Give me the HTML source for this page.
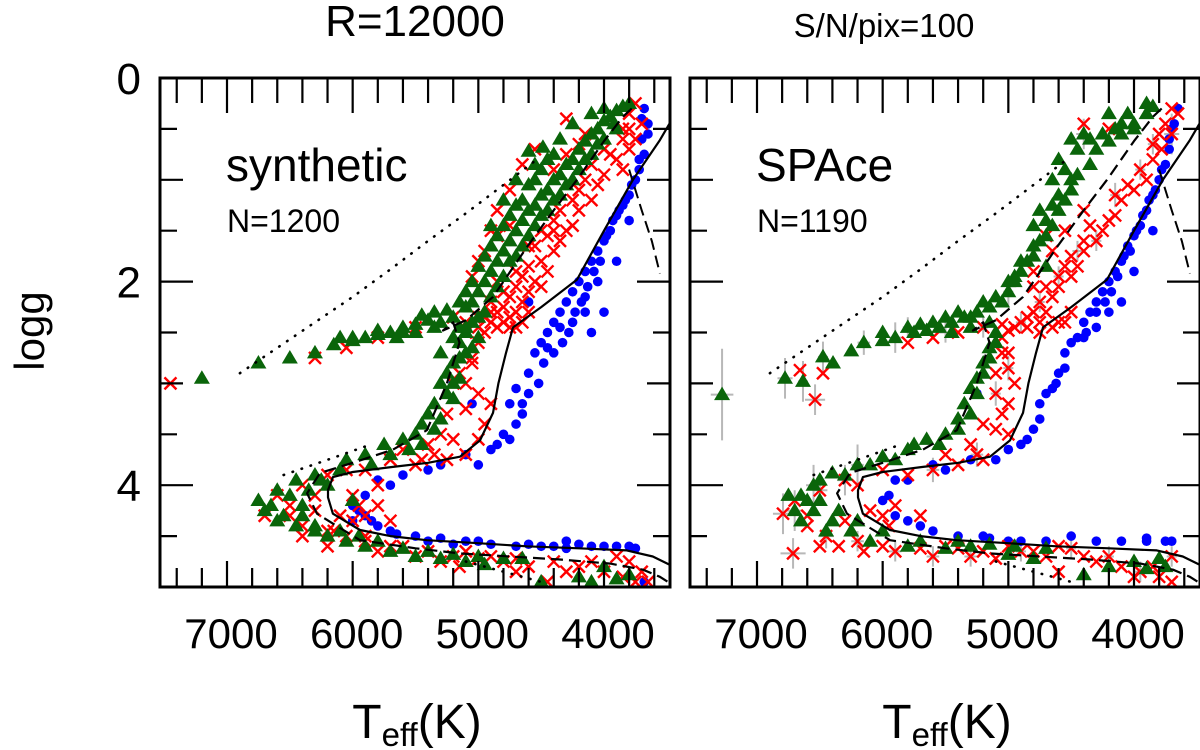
<!DOCTYPE html>
<html><head><meta charset="utf-8">
<style>
html,body{margin:0;padding:0;background:#fff;}
svg{display:block;font-family:"Liberation Sans",Arial,sans-serif;}
</style></head>
<body>
<svg id="chart" width="1200" height="750" viewBox="0 0 1200 750" xmlns="http://www.w3.org/2000/svg">
<text x="415" y="36" font-size="44" text-anchor="middle">R=12000</text>
<text x="884" y="37" font-size="33" text-anchor="middle">S/N/pix=100</text>
<text transform="translate(44,331) rotate(-90)" font-size="42" text-anchor="middle">logg</text>
<text x="417" y="738" font-size="48" text-anchor="middle">T<tspan font-size="33" dy="8">eff</tspan><tspan dy="-8">(K)</tspan></text>
<text x="947" y="738" font-size="48" text-anchor="middle">T<tspan font-size="33" dy="8">eff</tspan><tspan dy="-8">(K)</tspan></text>
<g id="panels"></g>
</svg>
<script>
const tempTicks = [7000, 6000, 5000, 4000];
const loggTicks = [0, 2, 4];
const solidLine = [[3480,0.45],[3555,0.61],[3770,1.0],[4000,1.5],[4215,1.98],[4500,2.25],[4724,2.45],[4780,2.7],[4840,3.0],[4883,3.29],[4987,3.56],[5146,3.72],[5400,3.78],[5679,3.82],[6000,3.87],[6157,3.92],[6196,4.05],[6196,4.12],[6157,4.28],[5942,4.44],[5700,4.5],[5410,4.54],[5000,4.57],[4615,4.6],[4200,4.62],[3819,4.64],[3612,4.7],[3480,4.78]];
const dashLine = [[3780,0.3],[3849,0.38],[4000,0.62],[4215,1.0],[4400,1.3],[4613,1.66],[4883,2.15],[5100,2.38],[5281,2.48],[5200,2.4],[5150,2.6],[5250,3.0],[5409,3.46],[5679,3.65],[6000,3.78],[6260,3.88],[6363,4.08],[6284,4.28],[6100,4.42],[5942,4.54],[5500,4.62],[5146,4.67],[4750,4.7],[4350,4.73],[3950,4.77],[3690,4.83],[3555,4.9],[3480,4.96]];
const dashLine2 = [[3800,0.9],[3700,1.3],[3620,1.6],[3555,1.92]];
const dotLine = [[6897,2.9],[6600,2.65],[6300,2.4],[6000,2.15],[5700,1.88],[5400,1.6],[5100,1.33],[4800,1.05],[4533,0.8]];
const dotLine2 = [[6550,3.9],[6200,3.75],[5900,3.62]];
const dotLine3 = [[5100,4.75],[4800,4.85],[4500,4.95]];

const greenL = [[3850,0.28],[3900,0.32],[3950,0.38],[4000,0.42],[3920,0.45],[4050,0.5],[4100,0.55],[4000,0.6],[4150,0.62],[4200,0.7],[4100,0.75],[4250,0.8],[4300,0.85],[4200,0.9],[4350,0.95],[4400,1.0],[4300,1.05],[4450,1.1],[4500,1.15],[4400,1.2],[4550,1.25],[4600,1.3],[4500,1.35],[4650,1.4],[4700,1.5],[4600,1.55],[4750,1.6],[4800,1.7],[4700,1.75],[4850,1.8],[4900,1.9],[4800,1.95],[4950,2.0],[5000,2.1],[4900,2.15],[5050,2.2],[5100,2.25],[4550,0.85],[4600,0.72],[4700,1.0],[4486,0.68],[4350,0.6],
[5200,2.35],[5300,2.4],[5400,2.38],[5500,2.42],[5600,2.45],[5700,2.5],[5800,2.52],[5900,2.55],[6000,2.58],[6150,2.62],[6300,2.7],[6500,2.75],[6750,2.8],[7200,2.95],[5350,2.3],[5450,2.33],[5150,2.2],[5250,2.28],[5500,2.5],[5650,2.55],
[5100,2.5],[5150,2.6],[5100,2.7],[5200,2.8],[5250,2.9],[5300,3.0],[5250,3.1],[5350,3.2],[5400,3.3],[5450,3.4],[5500,3.5],[5600,3.55],[5750,3.6],[5900,3.7],[6050,3.75],[6300,3.9],[6450,3.95],[6600,4.05],[6750,4.15],[6700,4.25],[6550,4.3],[6450,4.4],[6300,4.45],[6200,4.5],[6050,4.55],[5900,4.6],[5700,4.65],[5500,4.7],[5300,4.72],[5100,4.75],[4950,4.78],[4500,4.95],[4200,4.9],[4100,4.95],[3900,4.92],[6000,4.15],[6200,4.0],[6400,4.2],[5200,2.55],[5300,2.7],
[4100,0.35],[4250,0.45],[4400,0.75],[4500,0.9],[4600,1.05],[4650,1.2],[4750,1.35],[4800,1.45],[4850,1.55],[4900,1.65],[4950,1.75],[5000,1.85],[5050,2.0],[5100,2.1],[4900,1.45],[4800,1.2],[4700,1.25],[4550,1.0],[4450,0.8],[4000,0.3],[3800,0.25],[3900,0.5],[4050,0.65],[4150,0.8],[4250,1.0],[4350,1.15],[4450,1.3],[4550,1.45],[4650,1.65],[4750,1.8],[4850,2.05],[4950,2.3],[5000,2.35],[5050,2.4],[5150,2.45],[5150,2.95],[5200,3.15],[5300,3.35],[5350,3.45],[5450,3.6],[5550,3.65],[5700,3.7],[5850,3.8],[6100,3.85],[6250,3.95],[6350,4.05],[6500,4.1],[6650,4.2],[6600,4.35],[6400,4.3],[6300,4.4],[6100,4.45],[5950,4.5],[5800,4.55],[5600,4.62],[5400,4.65],[5200,4.68],[5000,4.7],[4800,4.72],[4650,4.72],[4000,4.8],[3800,4.88],[5100,2.45],[5000,2.55],[5050,2.65],[5150,2.75],[5200,3.0],[5600,2.5],[5800,2.48],[6000,2.55],[6100,2.55],[5350,2.45]];
const redL = [[3750,0.25],[3800,0.35],[3700,0.45],[3850,0.5],[3750,0.6],[3800,0.7],[3900,0.8],[3850,0.9],[4000,0.95],[4050,1.05],[4100,1.2],[4200,1.3],[4250,1.45],[4300,1.5],[4350,1.6],[4400,1.7],[4500,1.8],[4450,1.9],[4550,2.0],[4600,2.1],[4650,2.2],[4700,2.3],[4750,2.35],[4800,2.4],[4600,2.3],[4500,2.05],[4700,2.45],[4400,1.4],[4150,0.55],[4300,0.4],[4550,0.7],[4650,0.85],[4750,1.1],[4850,1.3],[4900,1.5],[4950,1.7],[5000,1.8],[5050,1.95],[4850,2.0],[4900,2.4],[5000,2.45],[5100,2.4],[4850,1.55],[4750,1.45],
[7450,3.0],[6300,2.75],[6050,2.65],[5800,2.55],[5500,2.45],[5200,2.35],
[5000,2.6],[5050,2.8],[5100,3.0],[5000,3.1],[4900,3.2],[4950,3.4],[5000,3.55],[5200,3.0],[5250,3.3],[5300,3.5],[5400,3.6],[5600,3.65],[5100,3.7],[5250,3.75],[5500,3.8],[5900,3.85],[6200,3.9],[6400,4.0],[6600,4.1],[6700,4.3],[6500,4.2],[6300,4.25],[6100,4.3],[6000,4.35],[5900,4.5],[5800,4.2],[6150,4.45],[6400,4.5],[6200,4.6],[5800,4.65],[5600,4.6],[5400,4.65],[5200,4.7],[5000,4.72],[4800,4.75],[4600,4.8],[4400,4.75],[4200,4.8],[4000,4.85],[3850,4.9],[3700,4.85],[3650,4.95],[4450,4.95],[3900,4.7],[4700,4.72],[5150,4.8],
[3800,0.5],[3850,0.6],[3950,0.75],[4000,0.7],[4100,0.85],[4150,1.0],[4200,1.1],[4250,1.2],[4350,1.3],[4400,1.5],[4450,1.55],[4550,1.65],[4600,1.85],[4650,1.95],[4700,2.05],[4750,2.15],[4800,2.25],[4850,2.3],[4950,2.35],[4900,2.2],[4800,2.1],[4700,1.9],[4600,1.65],[4500,1.5],[4400,0.9],[4300,0.75],[4200,0.65],[4900,2.3],[5000,2.35],[4850,2.45],[4950,2.5],[5100,2.5],[4750,2.45],[4650,2.4],[5050,2.75],[5150,2.9],[5100,3.25],[5200,3.55],[5350,3.7],[5450,3.75],[5700,3.75],[6050,3.85],[6300,4.1],[6500,4.3],[6400,4.4],[6200,4.45],[6050,4.5],[5900,4.55],[5700,4.6],[5500,4.7],[5300,4.75],[5100,4.65],[4900,4.7],[4700,4.85],[4300,4.85],[4100,4.75],[3800,4.75],[3750,4.95],[6000,4.1],[5900,4.3],[5700,4.35],[5950,4.2],[5800,4.0]];
const blueL = [[3680,0.3],[3650,0.45],[3700,0.6],[3680,0.75],[3720,0.9],[3750,1.0],[3800,1.15],[3850,1.25],[3900,1.35],[3950,1.5],[4000,1.6],[4050,1.7],[4100,1.8],[4150,1.9],[4200,2.0],[4250,2.1],[4300,2.2],[4350,2.3],[4400,2.4],[4450,2.5],[4500,2.6],[4550,2.7],[4600,2.9],[4700,3.05],[4750,3.2],[4650,3.3],[4800,3.5],[4850,3.6],[4900,3.65],[5100,3.7],[5300,3.8],[5600,3.9],[5800,3.95],[5900,4.1],[6000,4.2],[5900,4.3],[5800,4.4],[5700,4.45],[5500,4.5],[5300,4.52],[5100,4.55],[4900,4.58],[4700,4.6],[4500,4.6],[4300,4.62],[4100,4.6],[3900,4.6],[3750,4.62],[3680,4.95],[4000,2.3],[4100,2.5],[5200,3.0],[5050,3.2],[4250,2.4],[3900,1.8],[3800,1.4],[4600,2.2],[6000,4.35],[5000,4.55],[4300,4.55],[4150,2.15],[4050,2.0],
[3700,0.4],[3650,0.55],[3720,0.8],[3780,1.05],[3830,1.2],[3880,1.3],[3930,1.4],[3980,1.55],[4030,1.8],[4080,1.9],[4130,2.05],[4180,2.2],[4230,2.3],[4280,2.5],[4330,2.6],[4400,2.7],[4480,2.8],[4520,3.0],[4600,3.1],[4650,3.2],[4700,3.4],[4750,3.55],[5000,3.8],[5400,3.85],[5700,4.0],[5950,4.25],[5850,4.35],[5650,4.48],[5400,4.55],[5200,4.58],[4600,4.58],[4400,4.6],[4200,4.58],[4000,4.6],[3800,4.6],[4350,2.45],[4150,2.3],[4450,2.65]];

const greenR = [[3850,0.28],[3900,0.35],[4000,0.45],[4100,0.55],[4200,0.62],[4300,0.7],[4400,0.55],[4500,0.6],[4350,0.85],[4450,0.95],[4500,1.1],[4550,1.2],[4600,1.3],[4650,1.45],[4700,1.55],[4800,1.65],[4850,1.8],[4900,1.9],[4950,2.0],[5000,2.1],[5050,2.2],[4750,1.3],[4650,1.0],[4600,0.8],[4200,0.35],[4100,0.45],[4000,0.5],[4700,1.85],
[5150,2.25],[5250,2.3],[5350,2.35],[5450,2.4],[5550,2.45],[5650,2.48],[5750,2.5],[5900,2.55],[6000,2.58],[6150,2.6],[6250,2.68],[6395,2.8],[6475,2.74],[6777,2.95],[6634,2.98],[7278,3.11],[5300,2.45],[5450,2.5],
[5100,2.5],[5150,2.65],[5200,2.8],[5250,2.95],[5300,3.05],[5350,3.2],[5400,3.35],[5500,3.5],[5650,3.55],[5800,3.65],[6000,3.72],[6200,3.8],[6400,3.88],[6550,4.0],[6650,4.1],[6750,4.1],[6700,4.25],[6550,4.25],[6400,4.35],[6250,4.45],[6100,4.55],[5800,4.6],[5500,4.62],[5300,4.6],[5000,4.68],[4800,4.72],[4400,4.88],[4000,4.75],[3900,4.82],[3750,4.8],[6450,4.45],
[3900,0.25],[4050,0.35],[4150,0.5],[4250,0.55],[4350,0.6],[4450,0.7],[4550,0.9],[4500,1.0],[4600,1.15],[4700,1.4],[4750,1.6],[4800,1.75],[4900,1.8],[4950,1.95],[5000,2.0],[5100,2.15],[5200,2.2],[4800,1.45],[4650,1.25],[5300,2.35],[5400,2.3],[5500,2.35],[5600,2.4],[5700,2.42],[5800,2.45],[6000,2.5],[5150,2.4],[5100,2.6],[5150,2.75],[5200,2.9],[5250,3.1],[5300,3.3],[5400,3.45],[5550,3.6],[5750,3.6],[5900,3.75],[6100,3.8],[6300,3.9],[6500,3.95],[6600,4.15],[6500,4.15],[6350,4.25],[6200,4.35],[6000,4.45],[5700,4.55],[5400,4.55],[5150,4.58],[4950,4.6],[4700,4.62],[4200,4.8],[3800,4.72],[6650,4.35]];
const redR = [[3650,0.35],[3750,0.45],[3700,0.55],[3780,0.7],[3850,0.8],[3900,1.0],[4000,1.1],[4100,1.2],[4150,1.35],[4250,1.5],[4300,1.6],[4400,1.7],[4450,1.85],[4500,1.95],[4600,2.05],[4650,2.15],[4700,2.3],[4750,2.4],[4850,2.45],[4950,2.45],[5050,2.42],[4500,2.3],[4550,1.5],[4400,1.3],[4700,1.55],[4800,1.9],[4200,0.5],[4400,0.45],[4600,2.4],
[6658,2.87],[6475,2.9],[6538,3.16],[5800,2.6],[5600,2.55],[5400,2.5],[5200,2.45],
[5050,2.7],[5000,2.85],[4950,3.0],[5100,3.1],[5050,3.3],[5000,3.5],[5200,3.4],[5300,3.6],[5500,3.7],[5200,3.75],[5600,3.85],[6000,3.85],[6300,3.95],[6500,4.05],[6700,4.15],[6793,4.28],[6713,4.67],[6600,4.4],[6450,4.5],[6300,4.35],[6100,4.25],[5950,4.4],[6200,4.55],[6000,4.6],[5700,4.62],[5500,4.6],[5300,4.7],[5100,4.72],[4900,4.65],[4700,4.7],[4500,4.62],[4300,4.75],[4100,4.8],[3950,4.85],[3800,4.9],[3700,4.7],[4600,4.85],[5200,4.65],
[3700,0.3],[3800,0.55],[3850,0.65],[3950,0.9],[4050,1.05],[4150,1.15],[4200,1.4],[4350,1.45],[4400,1.6],[4500,1.75],[4550,1.85],[4600,1.95],[4700,2.05],[4750,2.2],[4800,2.3],[4850,2.35],[4900,2.4],[5000,2.48],[4650,2.45],[4750,2.5],[4550,2.4],[4800,2.05],[4650,1.7],[5050,2.55],[5000,2.7],[5100,2.9],[5000,3.2],[5100,3.45],[5250,3.7],[5400,3.8],[5800,3.9],[6200,4.0],[6600,4.3],[6500,4.6],[6350,4.6],[6150,4.65],[5900,4.65],[5600,4.7],[5400,4.62],[5000,4.6],[4800,4.65],[4400,4.7],[4200,4.7],[4000,4.9],[3850,4.8],[3700,4.95],[4600,4.6],[5900,4.2],[5700,4.3],[6000,4.3]];
const blueR = [[3650,0.3],[3700,0.5],[3720,0.7],[3750,0.85],[3800,1.0],[3850,1.15],[3900,1.3],[3950,1.45],[4000,1.55],[4050,1.65],[4100,1.8],[4150,1.9],[4200,2.0],[4250,2.1],[4300,2.2],[4350,2.3],[4400,2.4],[4450,2.55],[4550,2.7],[4600,2.9],[4650,3.05],[4750,3.2],[4800,3.45],[4900,3.6],[5000,3.65],[5300,3.75],[5600,3.8],[5900,3.95],[6000,4.15],[5800,4.35],[5600,4.45],[5400,4.5],[5150,4.52],[4900,4.55],[4500,4.5],[4300,4.55],[4100,4.55],[3900,4.55],[3750,4.55],[4200,2.3],[4400,2.55],[5250,3.1],[4000,1.9],[3850,1.5],
[3680,0.45],[3720,0.6],[3780,0.9],[3830,1.1],[3880,1.2],[3930,1.35],[3980,1.5],[4030,1.7],[4080,1.75],[4130,1.95],[4180,2.1],[4230,2.2],[4300,2.3],[4380,2.5],[4500,2.6],[4550,2.85],[4620,3.0],[4700,3.1],[4750,3.35],[4850,3.55],[5100,3.75],[5500,3.85],[5800,3.95],[5950,4.1],[5900,4.3],[5700,4.4],[5200,4.5],[5000,4.55],[4700,4.55],[3900,4.52],[3700,4.55],[4300,2.45],[4100,2.2]];
const errR = [[7278,3.11,90,0.45],[6777,2.95,60,0.2],[6634,2.98,40,0.2],[6538,3.16,80,0.15],[6475,2.74,40,0.15],[6793,4.28,80,0.2],[6713,4.67,100,0.15],[6550,4.0,60,0.2],[5900,2.55,50,0.15],[5000,2.1,40,0.15],[4400,0.55,60,0.15],[3700,0.55,60,0.2],[6200,3.8,50,0.2],[6700,4.25,60,0.2],
[6150,2.6,50,0.12],[5800,2.45,40,0.1],[5500,2.5,50,0.1],[5200,2.45,40,0.1],[4900,2.4,40,0.1],[4750,2.2,40,0.1],[4600,1.95,40,0.1],[4450,1.7,40,0.1],[4300,1.6,40,0.1],[4150,1.15,40,0.12],[3950,0.9,40,0.1],[3850,0.65,40,0.1],[5250,3.7,50,0.12],[5600,3.85,50,0.12],[6300,3.95,60,0.15],[6500,4.05,60,0.15],[6450,4.5,60,0.12],[6200,4.55,50,0.1],[5900,4.65,50,0.1],[5600,4.7,50,0.1],[5300,4.7,50,0.1],[4900,4.65,40,0.1],[4500,4.62,40,0.1],[4200,4.7,40,0.1],[3950,4.85,40,0.1],[3700,4.7,40,0.1],[5100,3.1,40,0.12],[5000,2.85,40,0.12]];

const NS = 'http://www.w3.org/2000/svg';
const panelsG = document.getElementById('panels');
const TOP = 78, BOT = 587;
function yPix(g){ return TOP + g * (BOT - TOP) / 5; }
function mk(tag, attrs, parent){ const e = document.createElementNS(NS, tag); for (const k in attrs) e.setAttribute(k, attrs[k]); parent.appendChild(e); return e; }

function drawPanel(x0, name, label, nlabel, green, red, blue, errs, showY){
  const x1 = x0 + 510;
  function xPix(t){ return x0 + 67 + (7000 - t) * 0.12567; }
  const g = mk('g', {}, panelsG);
  
  
  const cid = 'clip-' + name;
  const cp = mk('clipPath', {id: cid}, g);
  mk('rect', {x: x0, y: TOP, width: 510, height: BOT - TOP}, cp);
  const plot = mk('g', {'clip-path': 'url(#' + cid + ')'}, g);
  for (const e of errs){
    const eb = mk('path', {d: 'M' + xPix(e[0] - e[2]) + ' ' + yPix(e[1]) + 'H' + xPix(e[0] + e[2]) + 'M' + xPix(e[0]) + ' ' + yPix(e[1] - e[3]) + 'V' + yPix(e[1] + e[3]), stroke: '#b8b8b8', 'stroke-width': 2, fill: 'none'}, plot);
    
    
  }
  for (const p of blue){
    const c = mk('circle', {cx: xPix(p[0]), cy: yPix(p[1]), r: 4.8, fill: '#0000ff'}, plot);
    
    
  }
  for (const p of red){
    const x = xPix(p[0]), y = yPix(p[1]), s = 6;
    const m = mk('path', {d: 'M' + (x - s) + ' ' + (y - s) + 'L' + (x + s) + ' ' + (y + s) + 'M' + (x - s) + ' ' + (y + s) + 'L' + (x + s) + ' ' + (y - s), stroke: '#ff0000', 'stroke-width': 2.4, fill: 'none'}, plot);
    
    
  }
  for (const p of green){
    const x = xPix(p[0]), y = yPix(p[1]);
    const t = mk('path', {d: 'M' + x + ' ' + (y - 8) + 'L' + (x + 8) + ' ' + (y + 5.5) + 'L' + (x - 8) + ' ' + (y + 5.5) + 'Z', fill: '#0a650a'}, plot);
    
    
  }
  function line(arr, dash, w, lname, cap){
    const d = arr.map((p, i) => (i ? 'L' : 'M') + xPix(p[0]).toFixed(1) + ' ' + yPix(p[1]).toFixed(1)).join('');
    const l = mk('path', {d: d, stroke: '#000', 'stroke-width': w, fill: 'none', 'stroke-dasharray': dash, 'stroke-linecap': cap || 'butt', 'stroke-linejoin': 'round'}, plot);
    
    
  }
  line(solidLine, 'none', 2.2, 'isochrone-solid');
  line(dashLine, '12,6', 2.2, 'isochrone-dashed');
  line(dashLine2, '12,6', 2, 'isochrone-dashed-branch');
  line(dotLine, '0.5,9', 2.6, 'isochrone-dotted', 'round');
  line(dotLine2, '0.5,9', 2.6, 'isochrone-dotted-lower', 'round');
  line(dotLine3, '0.5,9', 2.6, 'isochrone-dotted-bottom', 'round');
  const fr = mk('rect', {x: x0, y: TOP, width: 510, height: BOT - TOP, fill: 'none', stroke: '#000', 'stroke-width': 3}, g);
  
  
  let td = '';
  for (let t = 7400; t >= 3600; t -= 200){
    const x = xPix(t);
    const major = (t % 1000 === 0);
    const len = major ? 26 : 19;
    td += 'M' + x + ' ' + TOP + 'v' + (major ? 35 : 25);
    td += 'M' + x + ' ' + BOT + 'v-' + len;
  }
  for (let v = 0.5; v < 5; v += 0.5){
    const y = yPix(v);
    const len = (v % 2 === 0) ? 33 : (v % 1 === 0 ? 23 : 17);
    td += 'M' + x0 + ' ' + y + 'h' + len;
    td += 'M' + x1 + ' ' + y + 'h-' + len;
  }
  const tk = mk('path', {d: td, stroke: '#000', 'stroke-width': 2.2, fill: 'none'}, g);
  
  
  for (const t of tempTicks){
    const tl = mk('text', {x: xPix(t) + 4, y: 648, 'font-size': 42, 'text-anchor': 'middle'}, g);
    tl.textContent = String(t);
    
    
  }
  if (showY){
    for (const v of loggTicks){
      const yl = mk('text', {x: 141, y: yPix(v) + 16, 'font-size': 44, 'text-anchor': 'end'}, g);
      yl.textContent = String(v);
      
      
    }
  }
  const lb = mk('text', {x: x0 + 66, y: 181, 'font-size': 46}, g);
  lb.textContent = label;
  
  
  const nl = mk('text', {x: x0 + 67, y: 232, 'font-size': 32}, g);
  nl.textContent = nlabel;
  
  
}
drawPanel(160, 'panel-synthetic', 'synthetic', 'N=1200', greenL, redL, blueL, [], true);
drawPanel(690, 'panel-space', 'SPAce', 'N=1190', greenR, redR, blueR, errR, false);
</script>
</body></html>
